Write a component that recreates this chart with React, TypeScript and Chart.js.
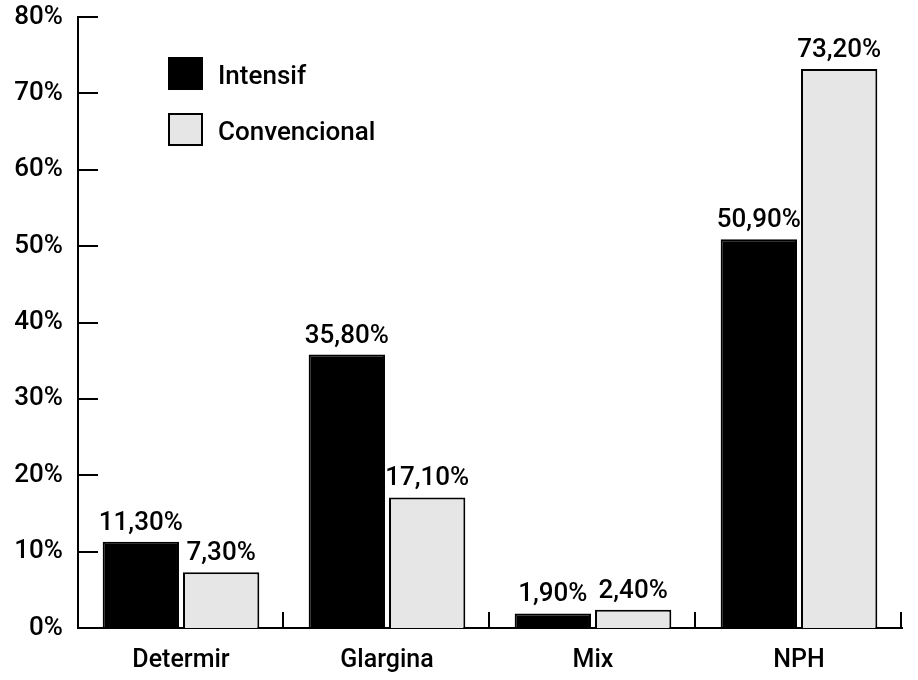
import React, { useEffect, useRef } from "react";
import { Chart, registerables } from "chart.js";

Chart.register(...registerables);

const categories = ["Determir", "Glargina", "Mix", "NPH"];
const seriesNames = ["Intensif", "Convencional"];
const intensif = [11.3, 35.8, 1.9, 50.9];
const convencional = [7.3, 17.1, 2.4, 73.2];
const yMin = 0;
const yMax = 80;
const yStep = 10;

const FONT = "Roboto";
const fmt = (v: number) => v.toFixed(2).replace(".", ",") + "%";

const decorPlugin = {
  id: "decor",
  afterDatasetsDraw(chart: any) {
    const ctx = chart.ctx as CanvasRenderingContext2D;
    const { left, right, top, bottom } = chart.chartArea;
    const ys = chart.scales.y;
    ctx.save();
    ctx.strokeStyle = "#000";
    ctx.lineWidth = 2;
    // inner y ticks
    ys.ticks.forEach((t: any) => {
      const y = Math.round(ys.getPixelForValue(t.value));
      ctx.beginPath();
      ctx.moveTo(left, y);
      ctx.lineTo(left + 20, y);
      ctx.stroke();
    });
    // inner x ticks at category boundaries
    const n = categories.length;
    for (let i = 1; i <= n; i++) {
      const x = Math.round(left + (i * (right - left)) / n) - 1;
      ctx.beginPath();
      ctx.moveTo(x, bottom);
      ctx.lineTo(x, bottom - 16);
      ctx.stroke();
    }
    // data labels
    ctx.fillStyle = "#000";
    ctx.font = `500 26px ${FONT}`;
    ctx.textAlign = "center";
    ctx.textBaseline = "alphabetic";
    chart.data.datasets.forEach((ds: any, di: number) => {
      const meta = chart.getDatasetMeta(di);
      meta.data.forEach((bar: any, i: number) => {
        ctx.fillText(fmt(ds.data[i]), bar.x, bar.y - 12);
      });
    });
    // legend
    const lx = 169;
    const rows = [74, 130];
    chart.data.datasets.forEach((ds: any, di: number) => {
      const cy = rows[di];
      ctx.fillStyle = ds.backgroundColor;
      ctx.fillRect(lx, cy - 16, 33, 31);
      ctx.lineWidth = 2;
      ctx.strokeStyle = "#000";
      ctx.strokeRect(lx, cy - 16, 33, 31);
      ctx.fillStyle = "#000";
      ctx.textAlign = "left";
      ctx.textBaseline = "middle";
      ctx.font = `500 26px ${FONT}`;
      ctx.fillText(ds.label, 218, cy + 3);
    });
    ctx.restore();
  },
};

export default function App() {
  const ref = useRef<HTMLCanvasElement | null>(null);
  useEffect(() => {
    if (!ref.current) return;
    const chart = new Chart(ref.current, {
      type: "bar",
      data: {
        labels: categories,
        datasets: [
          {
            label: seriesNames[0],
            data: intensif,
            backgroundColor: "#000000",
            borderColor: "#000000",
            borderWidth: 2,
            categoryPercentage: 0.78,
            barPercentage: 0.95,
          },
          {
            label: seriesNames[1],
            data: convencional,
            backgroundColor: "#e6e6e6",
            borderColor: "#000000",
            borderWidth: 2,
            categoryPercentage: 0.78,
            barPercentage: 0.95,
          },
        ],
      },
      options: {
        responsive: false,
        animation: false,
        layout: { padding: { top: 17, right: 16, left: 0, bottom: 0 } },
        plugins: {
          legend: { display: false },
          tooltip: { enabled: false },
          title: { display: false },
        },
        scales: {
          x: {
            grid: { display: false, drawTicks: false },
            border: { display: true, color: "#000", width: 2 },
            ticks: {
              color: "#000",
              font: { family: FONT, size: 25, weight: 500 },
              padding: 18,
            },
            afterFit: (s: any) => {
              s.height = 52;
              s.paddingLeft = 0;
              s.paddingRight = 0;
            },
          },
          y: {
            min: yMin,
            max: yMax,
            grid: { display: false, drawTicks: false },
            border: { display: true, color: "#000", width: 2 },
            ticks: {
              stepSize: yStep,
              color: "#000",
              font: { family: FONT, size: 26, weight: 500 },
              padding: 15,
              callback: (v: any) => `${v}%`,
            },
            afterFit: (s: any) => {
              s.width = 78;
              s.paddingTop = 0;
              s.paddingBottom = 0;
            },
          },
        },
      },
      plugins: [decorPlugin],
    });
    return () => chart.destroy();
  }, []);
  return (
    <div style={{ position: "absolute", left: 0, top: 0, width: 918, height: 680, background: "#fff" }}>
      <canvas ref={ref} width={918} height={680} style={{ width: 918, height: 680 }} />
    </div>
  );
}
